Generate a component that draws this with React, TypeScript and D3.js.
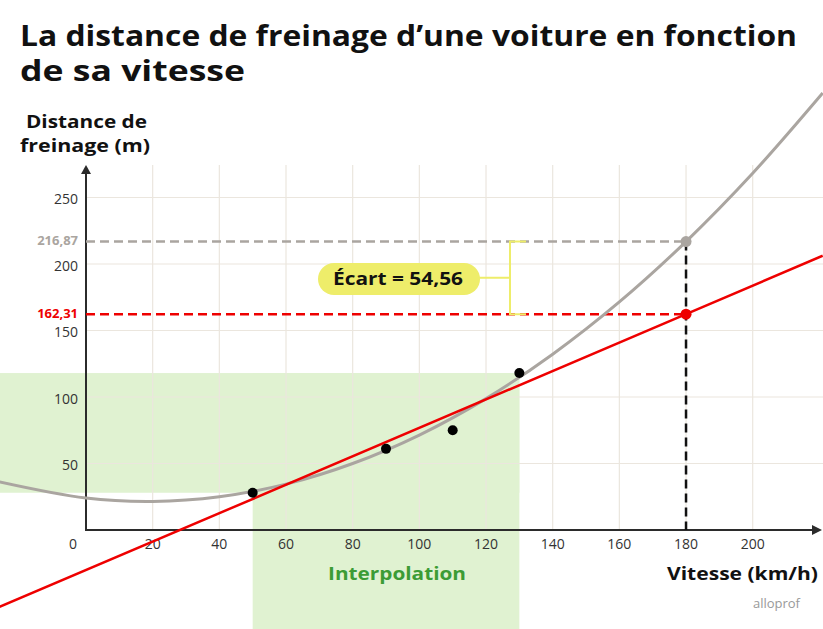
import { useMemo } from 'react';
import * as d3 from 'd3';

// measured data (speed km/h, distance m)
const speeds = [50, 90, 110, 130];
const distances = [28, 61, 75, 118];

// quadratic curve
const curveX = [-26, 0, 20, 40, 60, 80, 100, 120, 140, 160, 180, 200, 221];
const curveY = [36.2, 24, 21.5, 25, 34.5, 50, 71.4, 98.8, 132.2, 171.5, 216.87, 268.2, 328.5];

// linear model endpoints
const lineX = [-26, 180, 221];
const lineY = [-57.9, 162.31, 206.2];

const xTicks = [20, 40, 60, 80, 100, 120, 140, 160, 180, 200];
const yTicks = [50, 100, 150, 200, 250];

const target = 180;
const quadValue = 216.87;
const linValue = 162.31;

const W = 823;
const H = 629;
const FONT = '"Open Sans", "Noto Sans", sans-serif';

export default function App() {
  const x = useMemo(() => d3.scaleLinear().domain([0, 200]).range([86, 752.7]), []);
  const y = useMemo(() => d3.scaleLinear().domain([0, 250]).range([530, 197.5]), []);

  const quadPath = d3.line<number>()
    .x((d) => x(d))
    .y((_, i) => y(curveY[i]))
    .curve(d3.curveCatmullRom)(curveX) || '';
  const linPath = d3.line<number>()
    .x((d) => x(d))
    .y((_, i) => y(lineY[i]))(lineX) || '';

  const [x0, x1] = d3.extent(speeds) as [number, number];
  const [y0, y1] = d3.extent(distances) as [number, number];

  const grid = '#ebe6de';
  const axis = '#2b2b2b';
  const green = '#e0f2d1';
  const gray = '#aaa5a0';
  const red = '#ee0000';
  const yellow = '#eeed6a';

  const axisY = 530;
  const axisX = 86;

  return (
    <svg width={W} height={H} style={{ position: 'absolute', left: 0, top: 0, fontFamily: FONT }}>
      <defs>
        <clipPath id="plot">
          <rect x={0} y={0} width={W} height={H} />
        </clipPath>
      </defs>

      {/* interpolation zone */}
      <rect x={0} y={y(y1)} width={x(x1)} height={y(y0) - y(y1)} fill={green} />
      <rect x={x(x0)} y={y(y1)} width={x(x1) - x(x0)} height={H - y(y1)} fill={green} />

      {/* grid */}
      {xTicks.map((t) => (
        <line key={'gx' + t} x1={x(t)} x2={x(t)} y1={165} y2={axisY} stroke={grid} strokeWidth={1.2} />
      ))}
      {yTicks.map((t) => (
        <line key={'gy' + t} x1={axisX} x2={W} y1={y(t)} y2={y(t)} stroke={grid} strokeWidth={1.2} />
      ))}

      {/* axes */}
      <line x1={axisX} x2={axisX} y1={axisY + 1} y2={172} stroke={axis} strokeWidth={2} />
      <path d={`M${axisX - 5},${174} L${axisX},${165} L${axisX + 5},${174} Z`} fill={axis} />
      <line x1={axisX - 1} x2={814} y1={axisY} y2={axisY} stroke={axis} strokeWidth={2} />
      <path d={`M${812},${axisY - 5} L${822},${axisY} L${812},${axisY + 5} Z`} fill={axis} />

      {/* tick labels */}
      {yTicks.map((t) => (
        <text key={'ty' + t} x={78} y={y(t) + 2} dy="0.35em" textAnchor="end" fontSize={14} fill="#333">{t}</text>
      ))}
      {xTicks.map((t) => (
        <text key={'tx' + t} x={x(t)} y={549} textAnchor="middle" fontSize={14} fill="#333">{t}</text>
      ))}
      <text x={73} y={549} textAnchor="middle" fontSize={14} fill="#333">0</text>

      {/* reference lines */}
      <line x1={axisX} x2={x(target)} y1={y(quadValue)} y2={y(quadValue)} stroke={gray} strokeWidth={2.5} strokeDasharray="9 5" />
      <line x1={axisX} x2={x(target)} y1={y(linValue)} y2={y(linValue)} stroke={red} strokeWidth={2.5} strokeDasharray="9 5" />
      <line x1={x(target)} x2={x(target)} y1={y(quadValue)} y2={axisY} stroke="#111" strokeWidth={2.5} strokeDasharray="9 5" />

      {/* models */}
      <g clipPath="url(#plot)">
        <path d={quadPath} fill="none" stroke={gray} strokeWidth={3} />
        <path d={linPath} fill="none" stroke={red} strokeWidth={2.5} />
      </g>

      {/* data */}
      {speeds.map((s, i) => (
        <circle key={'p' + s} cx={x(s)} cy={y(distances[i])} r={5} fill="#000" />
      ))}
      <circle cx={x(target)} cy={y(quadValue)} r={5.5} fill={gray} />
      <circle cx={x(target)} cy={y(linValue)} r={5.5} fill={red} />

      {/* highlighted values */}
      <text x={78} y={y(quadValue) - 1} dy="0.35em" textAnchor="end" fontSize={13} fontWeight={700} fill={gray}>216,87</text>
      <text x={78} y={y(linValue) - 1} dy="0.35em" textAnchor="end" fontSize={13} fontWeight={700} fill={red}>162,31</text>

      {/* gap bracket */}
      <path
        d={`M526,${y(quadValue)} H510 V${y(linValue)} H526 M510,${(y(quadValue) + y(linValue)) / 2} H470`}
        fill="none" stroke={yellow} strokeWidth={2}
      />
      <rect x={318} y={263} width={162} height={32} rx={16} fill={yellow} />
      <text x={333} y={279} dy="0.36em" fontSize={18} fontWeight={700} fill="#111" textLength={130} lengthAdjust="spacingAndGlyphs">Écart = 54,56</text>

      {/* titles */}
      <text x={20} y={46} fontSize={28} fontWeight={700} fill="#111" textLength={777} lengthAdjust="spacingAndGlyphs">La distance de freinage d’une voiture en fonction</text>
      <text x={20} y={81} fontSize={28} fontWeight={700} fill="#111" textLength={225} lengthAdjust="spacingAndGlyphs">de sa vitesse</text>
      <text x={26} y={128} fontSize={18} fontWeight={700} fill="#111" textLength={121} lengthAdjust="spacingAndGlyphs">Distance de</text>
      <text x={20} y={152} fontSize={18} fontWeight={700} fill="#111" textLength={130} lengthAdjust="spacingAndGlyphs">freinage (m)</text>
      <text x={667} y={580} fontSize={18} fontWeight={700} fill="#111" textLength={151} lengthAdjust="spacingAndGlyphs">Vitesse (km/h)</text>
      <text x={328} y={580} fontSize={18} fontWeight={700} fill="#3c9c35" textLength={138} lengthAdjust="spacingAndGlyphs">Interpolation</text>
      <text x={800} y={608} textAnchor="end" fontSize={13} fill="#999">alloprof</text>
    </svg>
  );
}
